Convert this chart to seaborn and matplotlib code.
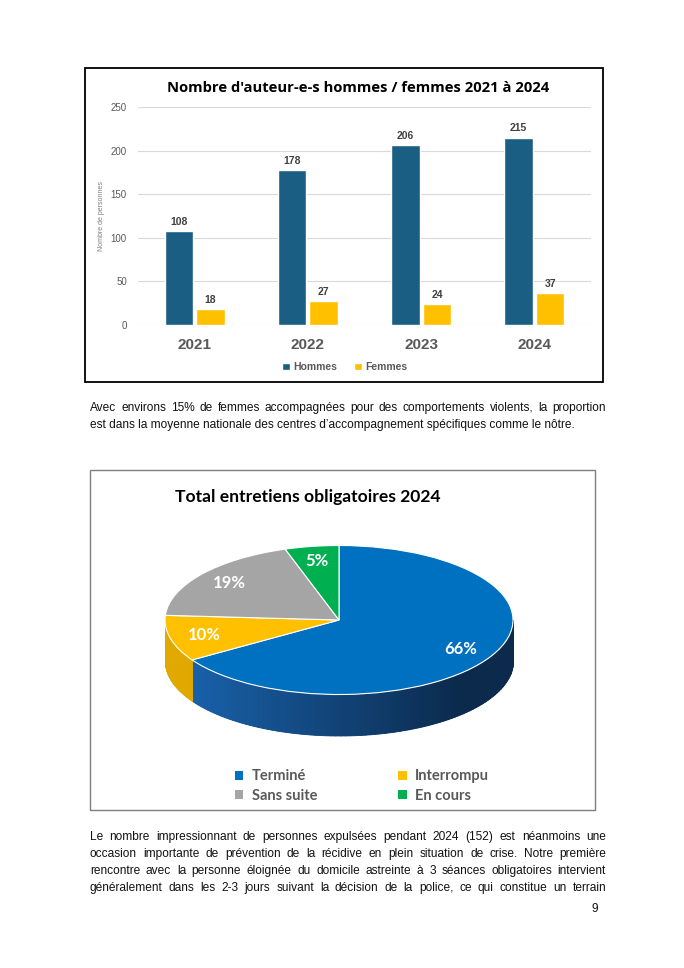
import numpy as np
import pandas as pd
import seaborn as sns
import matplotlib.pyplot as plt
from matplotlib.patches import Rectangle
from matplotlib.colors import to_rgb

# --- data -------------------------------------------------------------
annees = ["2021", "2022", "2023", "2024"]
hommes = [108, 178, 206, 215]
femmes = [18, 27, 24, 37]

statuts = ["Terminé", "Interrompu", "Sans suite", "En cours"]
parts = [66, 10, 19, 5]

paragraphe_1 = [
    "Avec environs 15% de femmes accompagnées pour des comportements violents, la proportion",
    "est dans la moyenne nationale des centres d’accompagnement spécifiques comme le nôtre.",
]
paragraphe_2 = [
    "Le nombre impressionnant de personnes expulsées pendant 2024 (152) est néanmoins une",
    "occasion importante de prévention de la récidive en plein situation de crise. Notre première",
    "rencontre avec la personne éloignée du domicile astreinte à 3 séances obligatoires intervient",
    "généralement dans les 2-3 jours suivant la décision de la police, ce qui constitue un terrain",
]

W, H = 684, 968
GRIS = "#595959"

sns.set_theme(style="white")
plt.rcParams["font.family"] = ["Liberation Sans", "DejaVu Sans"]

fig = plt.figure(figsize=(W / 100, H / 100), dpi=100)
fig.patch.set_facecolor("white")


def px_box(x0, y0, x1, y1):
    return [x0 / W, 1 - y1 / H, (x1 - x0) / W, (y1 - y0) / H]


def cadre(x0, y0, x1, y1, color, lw):
    fig.add_artist(Rectangle((x0 / W, 1 - y1 / H), (x1 - x0) / W, (y1 - y0) / H,
                             transform=fig.transFigure, fill=False,
                             edgecolor=color, linewidth=lw))


# --- bar chart --------------------------------------------------------
df = pd.DataFrame({
    "Année": annees * 2,
    "Sexe": ["Hommes"] * len(annees) + ["Femmes"] * len(annees),
    "Personnes": hommes + femmes,
})

ax = fig.add_axes(px_box(138, 107, 591, 325))
sns.barplot(data=df, x="Année", y="Personnes", hue="Sexe",
            palette={"Hommes": "#1B5E84", "Femmes": "#FFC000"},
            width=0.56, gap=0.1, saturation=1, ax=ax)
ax.set_ylim(0, 250)
ax.set_yticks(range(0, 251, 50))
ax.yaxis.grid(True, color="#D9D9D9", linewidth=0.8)
ax.set_axisbelow(True)
sns.despine(ax=ax, left=True, bottom=True)
ax.tick_params(axis="y", length=0, labelsize=7, labelcolor=GRIS, pad=8)
ax.tick_params(axis="x", length=0, labelsize=11, labelcolor=GRIS, pad=9)
for lab in ax.get_xticklabels():
    lab.set_fontweight("bold")
ax.set_xlabel("")
ax.set_ylabel("Nombre de personnes", fontsize=5, color="#7F7F7F")
ax.yaxis.set_label_coords((105 - 138) / 453, (325 - 216) / 218)

for c in ax.containers:
    ax.bar_label(c, padding=3, fontsize=7.5, fontweight="bold", color="#404040")

leg = ax.legend(loc="center", bbox_to_anchor=(345 / W, 1 - 367 / H),
                bbox_transform=fig.transFigure, ncol=2, frameon=False,
                handlelength=0.7, handleheight=0.7, handletextpad=0.4,
                columnspacing=1.6, prop=dict(weight="bold", size=7.5))
for t in leg.get_texts():
    t.set_color(GRIS)

fig.text(358 / W, 1 - 88 / H, "Nombre d'auteur-e-s hommes / femmes 2021 à 2024",
         ha="center", va="center", fontsize=10.6, fontweight="bold",
         family="Open Sans", color="black")
cadre(85, 68, 603, 382, "black", 1.3)

# --- 3D-looking pie ---------------------------------------------------
cx, cy, rx, ry, depth_px = 339, 620, 174, 74.5, 41
ax2 = fig.add_axes(px_box(150, 540, 530, 750))
d = depth_px / ry

couleurs = ["#0070C0", "#FFC000", "#A5A5A5", "#00B050"]
cotes = {0: ("#1A63AD", "#0B2A4C"), 1: ("#E0A800", "#C99400")}

bornes = 90 - np.cumsum([0] + parts) * 3.6
for i, (a0, a1) in enumerate(zip(bornes[:-1], bornes[1:])):
    lo, hi = max(a1, -180), min(a0, 0)
    if lo >= hi or i not in cotes:
        continue
    c_left, c_right = np.array(to_rgb(cotes[i][0])), np.array(to_rgb(cotes[i][1]))
    th = np.radians(np.linspace(lo, hi, 90))
    # solid base so no seams show between the gradient strips
    ax2.fill_between(np.cos(th), np.sin(th) - d, np.sin(th),
                     color=(c_left + c_right) / 2, linewidth=0)
    for t0, t1 in zip(th[:-1], th[1:]):
        tt = np.array([t0, t1])
        xs = np.cos(tt)
        f = np.clip((xs.mean() + 0.9) / 1.6, 0, 1)
        col = c_left * (1 - f) + c_right * f
        ax2.fill_between(xs, np.sin(tt) - d, np.sin(tt), color=col,
                         linewidth=0.6, edgecolor=col, antialiased=False)

wedges, _, autotexts = ax2.pie(
    parts, colors=couleurs, startangle=90, counterclock=False,
    wedgeprops=dict(edgecolor="white", linewidth=0.8),
    autopct=lambda p: f"{p:.0f}%", pctdistance=0.8,
    textprops=dict(color="white", fontsize=12, fontweight="bold", family="Lato"),
    frame=False)
ax2.set_aspect("auto")
ax2.set_xlim((150 - cx) / rx, (530 - cx) / rx)
ax2.set_ylim((cy - 750) / ry, (cy - 540) / ry)
ax2.axis("off")

fig.text(175 / W, 1 - 497 / H, "Total entretiens obligatoires 2024",
         ha="left", va="center", fontsize=12.6, fontweight="bold",
         family="Lato", color="black")

ordre = [0, 2, 1, 3]
leg2 = fig.legend([wedges[i] for i in ordre], [statuts[i] for i in ordre],
                  loc="center", bbox_to_anchor=(362 / W, 1 - 786 / H), ncol=2,
                  frameon=False, handlelength=0.6, handleheight=0.6,
                  handletextpad=0.6, columnspacing=5.5, labelspacing=0.35,
                  prop=dict(family="Lato", weight="bold", size=10.5))
for t in leg2.get_texts():
    t.set_color(GRIS)
for h in leg2.legend_handles:
    h.set_edgecolor("none")
cadre(90, 470, 595, 810, "#7F7F7F", 1.0)

# --- body text --------------------------------------------------------
renderer = fig.canvas.get_renderer()
STYLE = dict(fontsize=8.6, color="#111111", va="baseline", ha="left")


def ligne(texte, y, justifier, x0=90, x1=606):
    yb = 1 - (y + 4) / H
    if not justifier:
        fig.text(x0 / W, yb, texte, **STYLE)
        return
    mots = texte.split(" ")
    largeurs = []
    for m in mots:
        t = fig.text(0, 0, m, **STYLE)
        largeurs.append(t.get_window_extent(renderer).width)
        t.remove()
    espace = ((x1 - x0) - sum(largeurs)) / (len(mots) - 1)
    x = x0
    for m, wd in zip(mots, largeurs):
        fig.text(x / W, yb, m, **STYLE)
        x += wd + espace


for i, (txt, y) in enumerate(zip(paragraphe_1, [407, 424])):
    ligne(txt, y, i < len(paragraphe_1) - 1)
for txt, y in zip(paragraphe_2, [836, 853, 870, 887]):
    ligne(txt, y, True)
fig.text(598 / W, 1 - 909 / H, "9", fontsize=8.6, color="#111111",
         ha="right", va="center")

fig.savefig("out.png", dpi=100, facecolor="white")
